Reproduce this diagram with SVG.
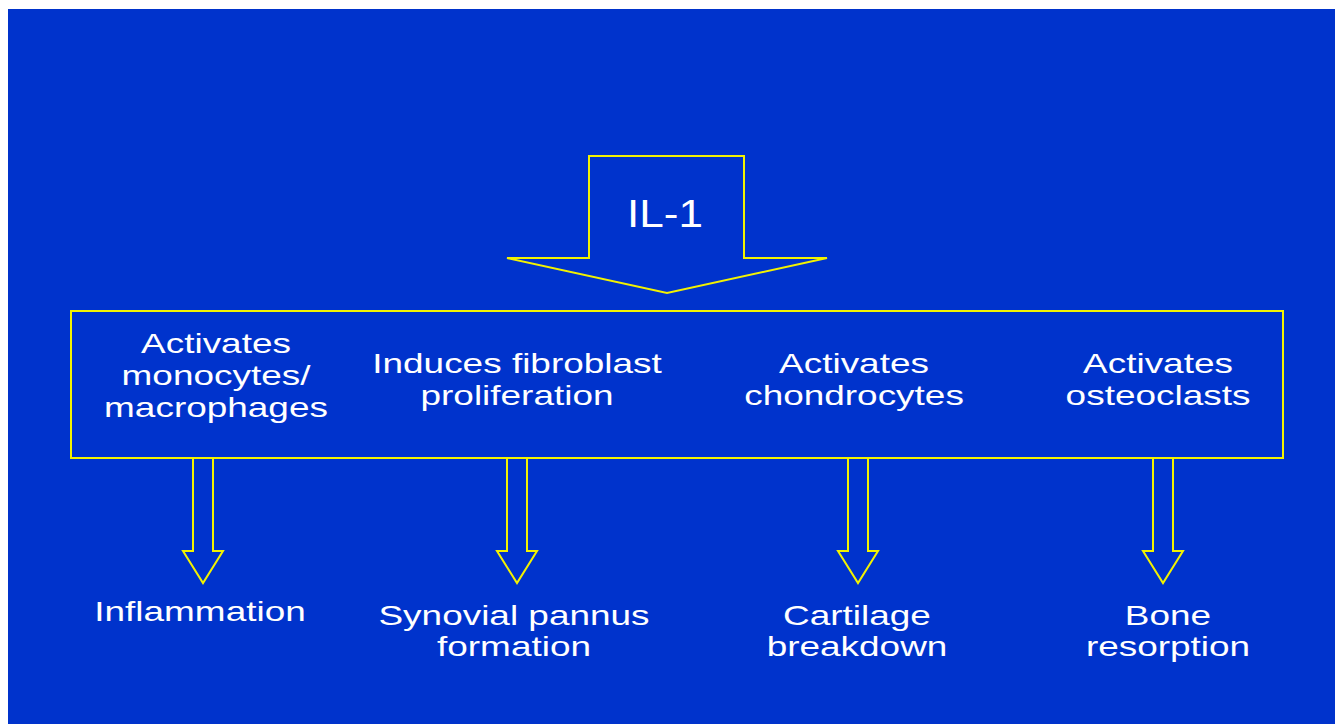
<svg xmlns="http://www.w3.org/2000/svg" width="1335" height="724" viewBox="0 0 1335 724">
<style>
.ln{fill:none;stroke:#F2F200;stroke-width:2;stroke-linejoin:miter}
.t{font-family:"Liberation Sans",Arial,sans-serif;font-size:28px;fill:#FFFFFF;text-anchor:middle}
.big{font-size:38px}
</style>
<rect x="0" y="0" width="1335" height="724" fill="#FFFFFF"/>
<rect x="8" y="9" width="1327" height="715" fill="#0033CC"/>
<g id="il1">
<polygon class="ln" points="589,156 744,156 744,258 827,258 667,293 507,258 589,258"/>
<text class="t big" transform="translate(665,227) scale(1.16,1)">IL-1</text>
</g>
<g id="box">
<rect class="ln" x="71" y="311" width="1212" height="147"/>
<text class="t" transform="translate(216,353) scale(1.32,1)"><tspan x="0" dy="0">Activates</tspan><tspan x="0" dy="32">monocytes/</tspan><tspan x="0" dy="32">macrophages</tspan></text>
<text class="t" transform="translate(517,373) scale(1.32,1)"><tspan x="0" dy="0">Induces fibroblast</tspan><tspan x="0" dy="32">proliferation</tspan></text>
<text class="t" transform="translate(854,373) scale(1.32,1)"><tspan x="0" dy="0">Activates</tspan><tspan x="0" dy="32">chondrocytes</tspan></text>
<text class="t" transform="translate(1158,373) scale(1.32,1)"><tspan x="0" dy="0">Activates</tspan><tspan x="0" dy="32">osteoclasts</tspan></text>
</g>
<g id="connectors">
<polygon class="ln" points="193,458 213,458 213,551 223,551 203,583 183,551 193,551"/>
<polygon class="ln" points="507,458 527,458 527,551 537,551 517,583 497,551 507,551"/>
<polygon class="ln" points="848,458 868,458 868,551 878,551 858,583 838,551 848,551"/>
<polygon class="ln" points="1153,458 1173,458 1173,551 1183,551 1163,583 1143,551 1153,551"/>
</g>
<g id="inflammation">
<text class="t" transform="translate(200,621) scale(1.32,1)">Inflammation</text>
</g>
<g id="pannus">
<text class="t" transform="translate(514,625) scale(1.32,1)"><tspan x="0" dy="0">Synovial pannus</tspan><tspan x="0" dy="31">formation</tspan></text>
</g>
<g id="cartilage">
<text class="t" transform="translate(857,625) scale(1.32,1)"><tspan x="0" dy="0">Cartilage</tspan><tspan x="0" dy="31">breakdown</tspan></text>
</g>
<g id="bone">
<text class="t" transform="translate(1168,625) scale(1.32,1)"><tspan x="0" dy="0">Bone</tspan><tspan x="0" dy="31">resorption</tspan></text>
</g>
</svg>
